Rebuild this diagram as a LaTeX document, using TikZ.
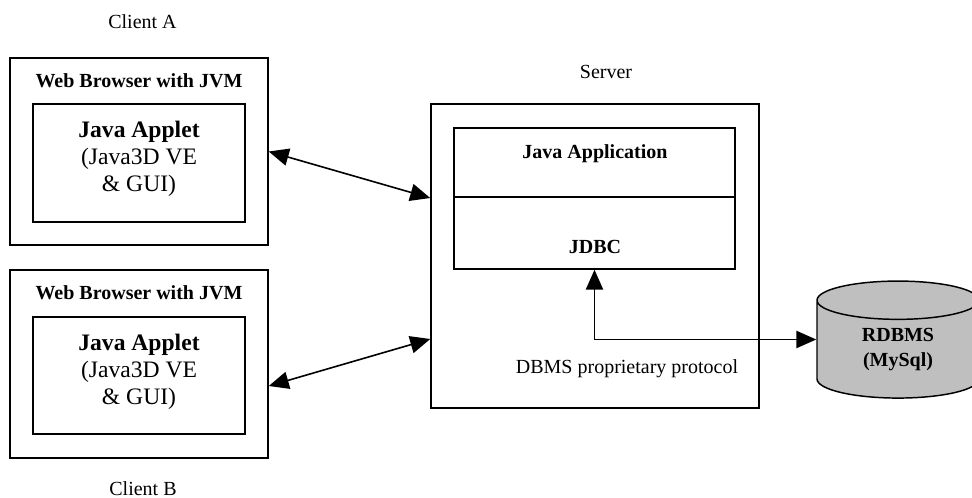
\documentclass[tikz,border=0pt]{standalone}
\usepackage{fontspec}
\setmainfont{Liberation Serif}
\usetikzlibrary{arrows.meta,shapes.geometric}
\begin{document}
\begin{tikzpicture} [x=0.75pt,y=-0.75pt,
	box/.style={shape=rectangle,draw=black,line width=1.1pt,inner sep=0pt},
	title/.style={font=\fontsize{15}{17}\selectfont\bfseries,anchor=base,inner sep=0pt},
	caption/.style={font=\fontsize{15}{17}\selectfont,anchor=base,inner sep=0pt},
	applet/.style={font=\fontsize{17.7}{20.2}\selectfont,align=center,inner sep=0pt},
	link/.style={{Triangle[length=15pt,width=13pt]}-{Triangle[length=15pt,width=13pt]},line width=1.2pt}]
	\useasboundingbox (0,0) rectangle (972,497);

	\node (clientALabel) at (142.5,28)[caption] {Client A};
	\node (browserA) at (139,151.5)[box,minimum width=193.5pt,minimum height=140pt] {};
	\node (titleA) at (139,87)[title] {Web Browser with JVM};
	\node (appletA) at (139,163)[box,minimum width=159pt,minimum height=88.5pt] {};
	\node (textA) at (139,159)[applet] {\textbf{Java Applet}\\(Java3D VE\\\& GUI)};

	\node (browserB) at (139,364)[box,minimum width=193.5pt,minimum height=141pt] {};
	\node (titleB) at (139,299)[title] {Web Browser with JVM};
	\node (appletB) at (139,375.5)[box,minimum width=159pt,minimum height=88pt] {};
	\node (textB) at (139,371.5)[applet] {\textbf{Java Applet}\\(Java3D VE\\\& GUI)};
	\node (clientBLabel) at (143,495)[caption] {Client B};

	\node (serverLabel) at (606,78)[caption] {Server};
	\node (server) at (595,256)[box,minimum width=246pt,minimum height=228pt] {};
	\node (app) at (594.5,162.5)[box,minimum width=210.75pt,minimum height=51.75pt] {};
	\node (jdbc) at (594.5,233)[box,minimum width=210.75pt,minimum height=54pt] {};
	\node (appTitle) at (595,158)[title] {Java Application};
	\node (jdbcTitle) at (595,253)[title] {JDBC};
	\node (protocol) at (627,373)[caption] {DBMS proprietary protocol};

	\node (rdbms) at (898,349.5)[shape=cylinder,shape border rotate=90,aspect=0.53,draw=black,fill=black!25,
		line width=1.1pt,minimum width=121.5pt,minimum height=87.75pt,inner sep=0pt,
		font=\fontsize{15}{18.5}\selectfont\bfseries,align=center] {RDBMS\\(MySql)};

	\coordinate (browserBPort) at ([yshift=-16.5pt]browserB.east);
	\coordinate (serverPortA) at ([yshift=43.5pt]server.west);
	\coordinate (serverPortB) at ([yshift=-62.25pt]server.west);
	\coordinate (rdbmsPort) at ([yshift=7.5pt]rdbms.west);

	\draw[link] (browserA.east) -- (serverPortA);
	\draw[link] (browserBPort) -- (serverPortB);
	\draw[link] (jdbc.south) |- (rdbmsPort);
\end{tikzpicture}
\end{document}
